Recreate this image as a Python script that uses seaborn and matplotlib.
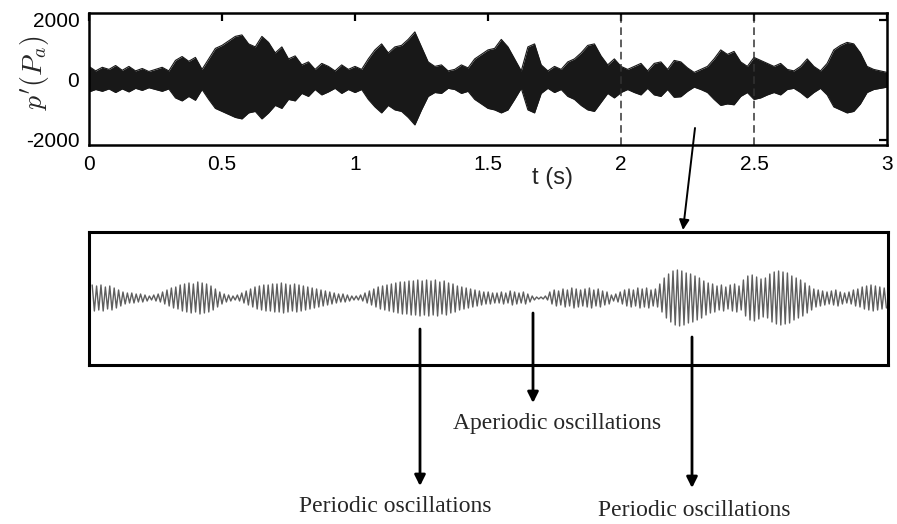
import numpy as np
import pandas as pd
import matplotlib
matplotlib.use("Agg")
import matplotlib.pyplot as plt
from matplotlib.patches import FancyArrowPatch
import seaborn as sns

# ---------------- data ----------------
# time grid of the envelope of the full pressure record (s)
t_env = [round(0.025 * i, 3) for i in range(121)]
# upper envelope of p' (Pa)
p_upper = [
    450, 300, 420, 350, 480, 320, 450, 300, 380, 280,
    350, 420, 300, 650, 780, 620, 750, 350, 700, 1050,
    1150, 1300, 1450, 1500, 1200, 1100, 1450, 1250, 900, 1100,
    700, 800, 500, 600, 350, 550, 450, 300, 500, 350,
    450, 350, 700, 1000, 1200, 900, 1100, 1150, 1350, 1600,
    1100, 600, 450, 500, 300, 350, 500, 400, 700, 850,
    1000, 1050, 1350, 1100, 700, 300, 1100, 1200, 500, 300,
    450, 350, 600, 700, 900, 1150, 1200, 800, 500, 700,
    450, 350, 450, 550, 300, 550, 600, 350, 650, 600,
    400, 250, 350, 450, 700, 1000, 850, 950, 600, 450,
    750, 650, 550, 450, 550, 350, 300, 450, 700, 450,
    300, 550, 1000, 1150, 1250, 1200, 900, 450, 350, 300,
    250,
]
# lower envelope of p' (Pa)
p_lower = [
    -400, -320, -380, -300, -420, -300, -400, -280, -350, -260,
    -320, -380, -300, -600, -700, -550, -680, -320, -650, -950,
    -1050, -1150, -1250, -1300, -1100, -1050, -1300, -1100, -850, -950,
    -650, -700, -450, -550, -320, -500, -400, -280, -450, -320,
    -420, -320, -650, -900, -1100, -850, -1000, -1050, -1250, -1500,
    -1000, -550, -420, -450, -280, -320, -450, -380, -650, -800,
    -950, -1000, -1100, -1000, -650, -280, -1000, -1100, -450, -280,
    -420, -320, -550, -650, -850, -1000, -1050, -750, -450, -600,
    -420, -320, -420, -500, -280, -500, -550, -320, -580, -560,
    -380, -240, -320, -420, -650, -850, -800, -830, -550, -420,
    -650, -600, -500, -420, -500, -320, -280, -420, -600, -420,
    -280, -500, -900, -1000, -1100, -1050, -800, -420, -320, -280,
    -240,
]
# window that is magnified (s)
zoom_window = [2.0, 2.5]
# peak amplitude of each oscillation cycle inside the window (arb. units)
cycle_amp = [
    13, 12, 13, 11, 12, 10, 8,
    6, 5, 5, 4, 4, 3, 2, 3,
    4, 6, 8, 10, 11, 13, 14, 15, 14,
    16, 15, 14, 12, 9,
    6, 4, 3, 2, 3, 5,
    7, 9, 11, 12, 13, 13, 14, 14, 15,
    14, 13, 14, 13, 12, 11, 10, 9, 8,
    7, 6, 5, 4, 4, 3, 2, 2,
    3, 5, 7, 9, 11, 12, 13, 14, 15, 16, 16, 17, 17,
    18, 17, 18, 17, 18, 16, 17,
    15, 14, 12, 11, 10, 9, 8, 7, 6, 6, 5, 5,
    6, 5, 7, 6, 5, 6, 4,
    2, 1, 1, 2,
    6, 8, 7, 9, 8, 10, 9, 8, 9, 10, 8, 9, 7, 6,
    3, 4,
    6, 8, 9, 8, 10, 9, 10, 8, 9,
    14, 20, 24, 27, 28, 27, 25, 24, 22, 20, 17, 15,
    14, 12, 13, 11, 13, 14, 12,
    18, 22, 23, 21, 19, 20, 24, 26, 27, 26, 25, 22, 20, 18, 15, 12,
    9, 8, 7, 6, 7, 8, 6, 5, 6, 8, 9,
    11, 12, 13, 12, 11, 10,
]
x_ticks = [0, 0.5, 1, 1.5, 2, 2.5, 3]
x_ticklabels = ["0", "0.5", "1", "1.5", "2", "2.5", "3"]
y_ticks = [-2000, 0, 2000]
y_ticklabels = ["-2000", "0", "2000"]
labels = ["Periodic oscillations", "Aperiodic oscillations", "Periodic oscillations"]

# ---------------- style ----------------
sns.set_theme(style="white")
plt.rcParams["font.family"] = ["Liberation Sans", "DejaVu Sans"]
plt.rcParams["mathtext.fontset"] = "cm"

W, H = 897, 524
fig = plt.figure(figsize=(W / 100, H / 100), dpi=100)
fig.patch.set_facecolor("white")

def fx(px):
    return px / W

def fy(py):
    return 1 - py / H

# ---------------- top panel ----------------
ax = fig.add_axes([fx(89), fy(145), fx(887) - fx(89), fy(13) - fy(145)])
env = pd.DataFrame({"t": t_env, "up": p_upper, "lo": p_lower})
ax.fill_between(env["t"], env["lo"], env["up"], color="#181818", lw=0)
sns.lineplot(data=env, x="t", y="up", ax=ax, color="#181818", lw=0.8)
sns.lineplot(data=env, x="t", y="lo", ax=ax, color="#181818", lw=0.8)
for xv in zoom_window:
    ax.axvline(xv, color="#333333", lw=1.1, ls=(0, (5, 3)))
ax.set_xlim(0, 3)
ax.set_ylim(-2170, 2230)
ax.set_xticks(x_ticks)
ax.set_xticklabels(x_ticklabels)
ax.set_yticks(y_ticks)
ax.set_yticklabels(y_ticklabels)
ax.tick_params(direction="in", length=6, width=1.6, top=True, right=True,
               labelsize=15, pad=7, colors="black")
ax.set_xlabel("")
ax.set_ylabel(r"$p^{\prime}(P_a)$", fontsize=20, labelpad=0)
ax.yaxis.set_label_coords(-0.047, 0.55)
for s in ax.spines.values():
    s.set_linewidth(1.8)
    s.set_color("black")
fig.text(fx(552), fy(178), "t (s)", fontsize=17, ha="center", va="center")

# ---------------- magnified window ----------------
ax2 = fig.add_axes([fx(89), fy(365), fx(888) - fx(89), fy(232) - fy(365)])
n = len(cycle_amp)
tz = np.linspace(zoom_window[0], zoom_window[1], 2 * n)
zig = np.repeat(cycle_amp, 2) * np.tile([1, -1], n)
zdf = pd.DataFrame({"t": tz, "p": zig})
sns.lineplot(data=zdf, x="t", y="p", ax=ax2, color="#5e5e5e", lw=1.0,
             estimator=None, sort=False)
ax2.set_xlim(zoom_window[0] - 0.002, zoom_window[1] + 0.001)
ax2.set_ylim(-67, 66)
ax2.set_xticks([])
ax2.set_yticks([])
ax2.set_xlabel("")
ax2.set_ylabel("")
for s in ax2.spines.values():
    s.set_linewidth(2.2)
    s.set_color("black")

# ---------------- arrows & annotations ----------------
def arrow(x0, y0, x1, y1, lw=2.0, ms=16):
    a = FancyArrowPatch((fx(x0), fy(y0)), (fx(x1), fy(y1)),
                        transform=fig.transFigure, arrowstyle="-|>",
                        color="black", lw=lw, mutation_scale=ms,
                        shrinkA=0, shrinkB=0, zorder=10)
    fig.add_artist(a)

arrow(695, 128, 683, 230, lw=1.4, ms=15)
arrow(420, 329, 420, 486)
arrow(533, 313, 533, 403)
arrow(692, 337, 692, 488)

serif = ["Liberation Serif", "DejaVu Serif"]
fig.text(fx(395), fy(506), labels[0], fontsize=17, family=serif, ha="center", va="center")
fig.text(fx(557), fy(423), labels[1], fontsize=17, family=serif, ha="center", va="center")
fig.text(fx(694), fy(511), labels[2], fontsize=17, family=serif, ha="center", va="center")

fig.savefig("out.png", dpi=100)
